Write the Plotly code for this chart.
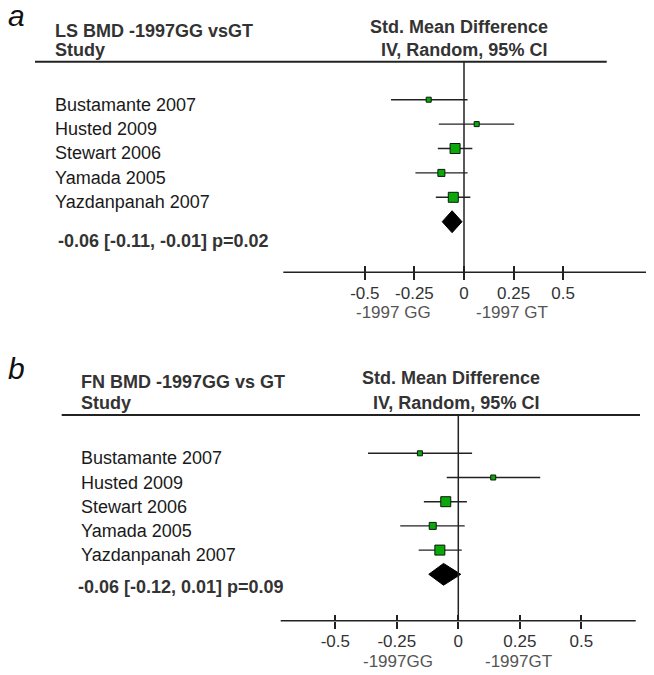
import plotly.graph_objects as go

# ---------------- data ----------------
studies = ["Bustamante 2007", "Husted 2009", "Stewart 2006", "Yamada 2005", "Yazdanpanah 2007"]

smd_a = [-0.178, 0.064, -0.045, -0.114, -0.054]
lo_a = [-0.368, -0.127, -0.132, -0.245, -0.142]
hi_a = [0.018, 0.253, 0.042, 0.018, 0.032]
pooled_a = [-0.06, -0.11, -0.01]
p_a = "0.02"

smd_b = [-0.156, 0.142, -0.051, -0.104, -0.075]
lo_b = [-0.367, -0.047, -0.140, -0.236, -0.161]
hi_b = [0.056, 0.333, 0.035, 0.026, 0.014]
pooled_b = [-0.06, -0.12, 0.01]
p_b = "0.09"

tick_vals = [-0.5, -0.25, 0, 0.25, 0.5]
tick_text = ["-0.5", "-0.25", "0", "0.25", "0.5"]

title_a = "LS BMD -1997GG vsGT"
title_b = "FN BMD -1997GG vs GT"
favour_a = ["-1997 GG", "-1997 GT"]
favour_b = ["-1997GG", "-1997GT"]

# ---------------- styles ----------------
W, H = 654, 675
sq_px = [5, 5, 10, 7, 10]
GREEN = "#0aa80a"
FONT = "Liberation Sans, Arial, Helvetica, sans-serif"

def px(x):
    return x / W

def py(y):
    return 1 - y / H

fig = go.Figure()

panels = [
    dict(name="a", xa="x", ya="y", smd=smd_a, lo=lo_a, hi=hi_a, pooled=pooled_a, p=p_a,
         title=title_a, fav=favour_a, standoff=9,
         zero_px=464.0, unit_px=198.3, ax_l=283.3, ax_r=646.0, ax_y=272.3,
         row0=99.7, step=24.4, hdr_y=61.7, hdr_l=35.0, hdr_r=606.7,
         lab_x=53.3, sum_x=56.0, sum_y=241.0, t1_y=31.0, t2_y=50.0, letter_y=15.0,
         ttl_x=53.3, right_x=550.0, fav_x=[393.7, 511.7], fav_y=312.3),
    dict(name="b", xa="x2", ya="y2", smd=smd_b, lo=lo_b, hi=hi_b, pooled=pooled_b, p=p_b,
         title=title_b, fav=favour_b, standoff=8,
         zero_px=458.3, unit_px=246.0, ax_l=280.7, ax_r=635.7, ax_y=620.7,
         row0=453.3, step=24.2, hdr_y=415.0, hdr_l=61.7, hdr_r=640.0,
         lab_x=79.3, sum_x=76.0, sum_y=586.7, t1_y=381.5, t2_y=403.0, letter_y=368.0,
         ttl_x=79.3, right_x=542.0, fav_x=[398.3, 518.3], fav_y=661.7),
]

annotations = []
shapes = []
layout_axes = {}

for i, P in enumerate(panels):
    n = len(studies)
    rows = list(range(n))
    sfx = "" if i == 0 else "2"
    ov = 3 + i
    # study CIs and squares
    fig.add_trace(go.Scatter(
        x=P["smd"], y=rows, mode="markers",
        marker=dict(symbol="square", size=sq_px, color=GREEN, opacity=1,
                    line=dict(color="#0a1a0a", width=1)),
        error_x=dict(type="data", symmetric=False,
                     array=[h - m for h, m in zip(P["hi"], P["smd"])],
                     arrayminus=[m - l for m, l in zip(P["smd"], P["lo"])],
                     color="#222222", thickness=1.4, width=0),
        xaxis=P["xa"], yaxis=P["ya"], showlegend=False, hoverinfo="skip"))
    # pooled diamond
    est, plo, phi = P["pooled"]
    hh = 0.45
    fig.add_trace(go.Scatter(
        x=[plo, est, phi, est, plo], y=[n, n - hh, n, n + hh, n],
        mode="lines", fill="toself", fillcolor="black",
        line=dict(color="black", width=1),
        xaxis=P["xa"], yaxis=P["ya"], showlegend=False, hoverinfo="skip"))
    # invisible helper so the overlay axis (inside ticks + labels) is drawn
    fig.add_trace(go.Scatter(
        x=tick_vals, y=[n] * len(tick_vals), mode="markers", marker=dict(opacity=0),
        xaxis="x%d" % ov, yaxis=P["ya"], showlegend=False, hoverinfo="skip"))

    # axes geometry
    xr = [(P["ax_l"] - P["zero_px"]) / P["unit_px"], (P["ax_r"] - P["zero_px"]) / P["unit_px"]]
    yr = [(P["ax_y"] - P["row0"]) / P["step"], (P["hdr_y"] - P["row0"]) / P["step"]]
    xdom = [px(P["ax_l"]), px(P["ax_r"])]
    ydom = [py(P["ax_y"]), py(P["hdr_y"])]
    layout_axes["xaxis" + sfx] = dict(
        domain=xdom, range=xr, anchor="y" + sfx, showline=False,
        ticks="outside", ticklen=7, tickwidth=1.5, tickcolor="#222222",
        tickvals=tick_vals, showticklabels=False, showgrid=False, zeroline=False)
    layout_axes["xaxis%d" % ov] = dict(
        range=xr, anchor="y" + sfx, overlaying="x" + sfx, side="bottom",
        showline=False, ticks="inside", ticklen=6, tickwidth=1.5, tickcolor="#222222",
        tickvals=tick_vals, ticktext=tick_text, showticklabels=True,
        ticklabelstandoff=P["standoff"],
        tickfont=dict(family=FONT, size=17, color="#333333"),
        showgrid=False, zeroline=False)
    layout_axes["yaxis" + sfx] = dict(domain=ydom, range=yr, visible=False,
                                      anchor="x" + sfx)

    # axis baseline
    shapes.append(dict(type="line", xref="x%s domain" % sfx, yref="y%s domain" % sfx,
                       x0=0, x1=1, y0=0, y1=0, line=dict(color="#222222", width=1.5)))
    # zero line
    shapes.append(dict(type="line", xref="x" + sfx, yref="y%s domain" % sfx,
                       x0=0, x1=0, y0=0, y1=1, line=dict(color="#222222", width=1.5)))
    # header rule
    shapes.append(dict(type="line", xref="paper", yref="paper",
                       x0=px(P["hdr_l"]), x1=px(P["hdr_r"]), y0=py(P["hdr_y"]), y1=py(P["hdr_y"]),
                       line=dict(color="#222222", width=2)))

    # study labels
    for k, s in enumerate(studies):
        annotations.append(dict(text=s, xref="paper", yref="y" + sfx, x=px(P["lab_x"]), y=k,
                                yshift=-5, xanchor="left", yanchor="middle", showarrow=False,
                                font=dict(family=FONT, size=18, color="#1a1a1a")))
    # summary text
    annotations.append(dict(
        text="<b>%.2f [%.2f, %.2f] p=%s</b>" % (est, plo, phi, P["p"]),
        xref="paper", yref="paper", x=px(P["sum_x"]), y=py(P["sum_y"]),
        xanchor="left", yanchor="middle", showarrow=False,
        font=dict(family=FONT, size=18, color="#333333")))
    # headers
    annotations.append(dict(text="<b>%s</b>" % P["title"], xref="paper", yref="paper",
                            x=px(P["ttl_x"]), y=py(P["t1_y"]), xanchor="left", yanchor="middle",
                            showarrow=False, font=dict(family=FONT, size=18, color="#333333")))
    annotations.append(dict(text="<b>Study</b>", xref="paper", yref="paper",
                            x=px(P["ttl_x"]), y=py(P["t2_y"]), xanchor="left", yanchor="middle",
                            showarrow=False, font=dict(family=FONT, size=18, color="#333333")))
    annotations.append(dict(text="<b>Std. Mean Difference</b>", xref="paper", yref="paper",
                            x=px(P["right_x"]), y=py(P["t1_y"] - 4), xanchor="right", yanchor="middle",
                            showarrow=False, font=dict(family=FONT, size=18, color="#333333")))
    annotations.append(dict(text="<b>IV, Random, 95% CI</b>", xref="paper", yref="paper",
                            x=px(P["right_x"] - 1.5), y=py(P["t2_y"]), xanchor="right", yanchor="middle",
                            showarrow=False, font=dict(family=FONT, size=18, color="#333333")))
    # panel letter
    annotations.append(dict(text="<i>%s</i>" % P["name"], xref="paper", yref="paper",
                            x=px(6), y=py(P["letter_y"]), xanchor="left", yanchor="middle",
                            showarrow=False, font=dict(family=FONT, size=30, color="#111111")))
    # favours labels
    for fx, ft in zip(P["fav_x"], P["fav"]):
        annotations.append(dict(text=ft, xref="paper", yref="paper", x=px(fx), y=py(P["fav_y"]),
                                xanchor="center", yanchor="middle", showarrow=False,
                                font=dict(family=FONT, size=17, color="#555555")))

fig.update_layout(
    width=W, height=H, autosize=False,
    margin=dict(l=0, r=0, t=0, b=0),
    paper_bgcolor="white", plot_bgcolor="rgba(0,0,0,0)",
    annotations=annotations, shapes=shapes, showlegend=False,
    **layout_axes)

fig.write_html("out.html", config={"displayModeBar": False},
               post_script="document.body.style.margin='0px';document.body.style.overflow='hidden';")
